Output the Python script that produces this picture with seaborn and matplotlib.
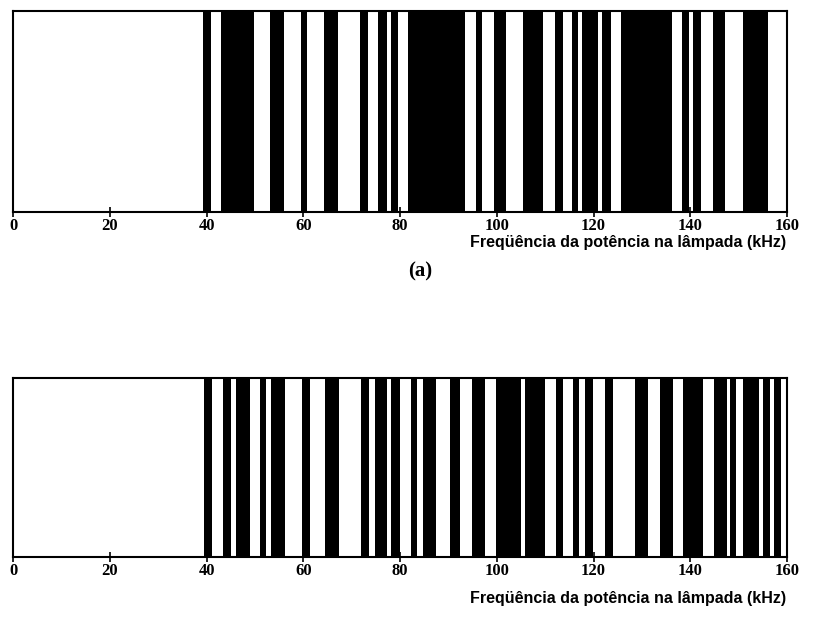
import matplotlib
matplotlib.use("Agg")
import matplotlib.pyplot as plt
import seaborn as sns
import pandas as pd

# Black bands (kHz) - panel (a)
top_start = [39.3, 43.1, 53.1, 59.5, 64.3, 71.8, 75.5, 78.2, 81.7, 95.7, 99.4,
             105.4, 112.0, 115.6, 117.7, 121.8, 125.6, 138.2, 140.6, 144.7, 150.9]
top_end = [40.9, 49.9, 56.1, 60.8, 67.1, 73.3, 77.4, 79.6, 93.4, 97.0, 102.0,
           109.6, 113.7, 116.8, 120.9, 123.6, 136.2, 139.7, 142.3, 147.1, 156.1]

# Black bands (kHz) - lower panel
bot_start = [39.5, 43.5, 46.0, 51.0, 53.3, 59.8, 64.5, 72.0, 74.8, 78.2, 82.2,
             84.8, 90.3, 94.8, 99.8, 105.8, 112.3, 115.8, 118.2, 122.3, 128.5,
             133.7, 138.5, 144.9, 148.3, 150.9, 155.0, 157.3]
bot_end = [41.1, 45.0, 49.0, 52.4, 56.3, 61.4, 67.4, 73.6, 77.4, 80.0, 83.5,
           87.5, 92.5, 97.5, 105.1, 109.9, 113.7, 117.1, 119.9, 124.0, 131.3,
           136.4, 142.6, 147.5, 149.5, 154.3, 156.4, 158.8]

xticks = [0, 20, 40, 60, 80, 100, 120, 140, 160]
xlabel = "Freqüência da potência na lâmpada (kHz)"

sns.set_theme(style="white")
plt.rcParams["font.family"] = ["DejaVu Sans"]
plt.rcParams["text.color"] = "black"
plt.rcParams["xtick.color"] = "black"
plt.rcParams["xtick.labelcolor"] = "black"

fig = plt.figure(figsize=(8.14, 6.23), dpi=100)
W, H = 814, 623

def make_ax(top_px, bot_px):
    return fig.add_axes([13 / W, (H - bot_px) / H, 774 / W, (bot_px - top_px) / H])

ax1 = make_ax(11, 212)
ax2 = make_ax(378, 557)

def draw(ax, starts, ends):
    df = pd.DataFrame({"start": starts, "end": ends})
    df["width"] = df["end"] - df["start"]
    ax.bar(df["start"], 1.0, width=df["width"], align="edge", color="black",
           edgecolor="none", linewidth=0)
    ax.set_xlim(0, 160)
    ax.set_ylim(0, 1)
    ax.set_yticks([])
    ax.set_xticks(xticks)
    ax.set_xticklabels([str(t) for t in xticks], family="Liberation Serif",
                       fontweight="bold", fontsize=12, color="black")
    ax.tick_params(axis="x", direction="inout", length=7, width=1.2,
                   color="black", pad=1, bottom=True)
    for s in ax.spines.values():
        s.set_color("black")
        s.set_linewidth(1.5)
        s.set_visible(True)

draw(ax1, top_start, top_end)
draw(ax2, bot_start, bot_end)

fig.text(786 / W, 1 - 243 / H, xlabel, ha="right", va="center", color="black",
         family="Liberation Sans", fontweight="bold", fontsize=11.5)
fig.text(420 / W, 1 - 271 / H, "(a)", ha="center", va="center", color="black",
         family="Liberation Serif", fontweight="bold", fontsize=15)
fig.text(786 / W, 1 - 598 / H, xlabel, ha="right", va="center", color="black",
         family="Liberation Sans", fontweight="bold", fontsize=11.5)

fig.savefig("out.png", dpi=100, facecolor="white")
